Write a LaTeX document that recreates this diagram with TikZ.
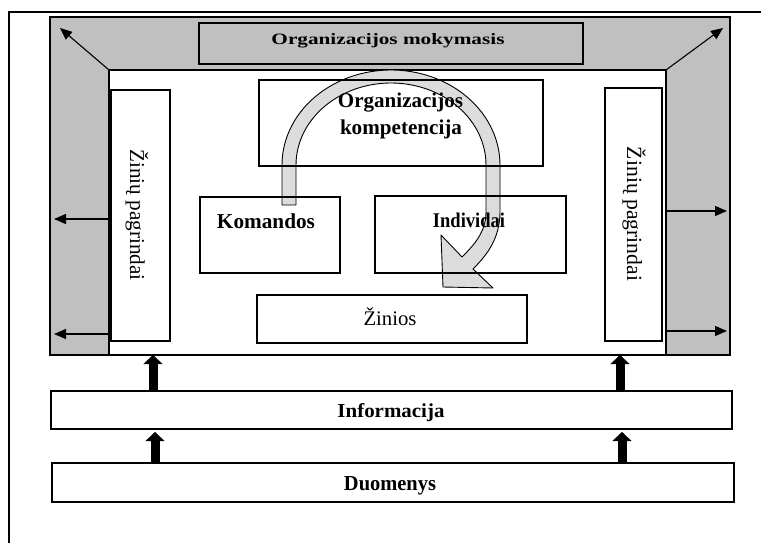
\documentclass[tikz,border=0pt]{standalone}
\usepackage{fontspec}
\setmainfont{Liberation Serif}
\usetikzlibrary{arrows.meta}
\definecolor{panelgray}{HTML}{C0C0C0}
\definecolor{cyclegray}{HTML}{DCDCDC}

\begin{document}
\begin{tikzpicture}[x=1pt,y=-1pt,
  box/.style={draw, line width=1.2pt, fill=white, inner sep=0pt, outer sep=0pt},
  graybox/.style={box, fill=panelgray},
  lbl/.style={inner sep=0pt, anchor=base},
  sidelbl/.style={inner sep=0pt, rotate=-90},
  thinarrow/.style={line width=1.1pt, -{Triangle[length=12pt,width=10pt]}},
  blockarrow/.style={line width=9pt, -{Triangle[length=9pt,width=19pt,line width=0.1pt]}},
  rim/.style={line width=1.2pt}
]
\useasboundingbox (0,0) rectangle (761,543);

% page frame
\draw[line width=1.5pt] (9,543) -- (9,12) -- (761,12);

% organisation panel and its inner area
\node[graybox, line width=1.4pt, minimum width=680pt, minimum height=338pt] (panel) at (390,186) {};
\node[box, minimum width=557pt, minimum height=285pt] (core) at (387.5,212.5) {};
\node[graybox, minimum width=384pt, minimum height=41pt] (learn) at (391,43.5) {};

% knowledge bases
\node[box, minimum width=59pt, minimum height=251pt] (kbl) at (140.5,215.5) {};
\node[box, minimum width=57pt, minimum height=253pt] (kbr) at (633.5,214.5) {};

% inner boxes
\node[box, minimum width=284pt, minimum height=86pt] (comp) at (401,123) {};
\node[box, minimum width=140pt, minimum height=76pt] (team) at (270,235) {};
\node[box, minimum width=191pt, minimum height=77pt] (indiv) at (470.5,234.5) {};
\node[box, minimum width=270pt, minimum height=48pt] (know) at (392,319) {};

% bottom layers
\node[box, minimum width=681pt, minimum height=38pt] (info) at (391.5,410) {};
\node[box, minimum width=682pt, minimum height=39pt] (data) at (393,482.5) {};

% curved cycle arrow
\filldraw[fill=cyclegray, line width=0.9pt, line join=round]
  (282,205) -- (282,165)
  -- plot[domain=180:0, samples=60] ({391+109*cos(\x)},{165-95*sin(\x)})
  -- (500,212) .. controls (500,240) and (485,257) .. (473,269)
  -- (493,288) -- (443,287) -- (441,235) -- (462,257)
  .. controls (474,245) and (486,232) .. (486,212)
  -- (486,165)
  -- plot[domain=0:180, samples=60] ({391+95*cos(\x)},{165-82*sin(\x)})
  -- (296,205) -- cycle;

% box outlines stay visible across the cycle arrow
\draw[rim] (comp.north west) rectangle (comp.south east);
\draw[rim] (team.north west) rectangle (team.south east);
\draw[rim] (indiv.north west) rectangle (indiv.south east);

% labels
\node[lbl] (tlearn) at (388,45) {\resizebox{233pt}{11pt}{\bfseries Organizacijos mokymasis}};
\node[lbl] (tcomp1) at (400.5,107) {\resizebox{125pt}{!}{\bfseries Organizacijos}};
\node[lbl] (tcomp2) at (401,134) {\resizebox{122pt}{!}{\bfseries kompetencija}};
\node[lbl] (tteam) at (266,228) {\resizebox{98pt}{!}{\bfseries Komandos}};
\node[lbl] (tindiv) at (469,227) {\resizebox{72pt}{14.5pt}{\bfseries Individai}};
\node[lbl] (tknow) at (390,325) {\resizebox{53pt}{!}{Žinios}};
\node[lbl] (tinfo) at (391,417) {\resizebox{107pt}{14pt}{\bfseries Informacija}};
\node[lbl] (tdata) at (390,490) {\resizebox{92pt}{14pt}{\bfseries Duomenys}};
\node[sidelbl] (tkbl) at (137,215) {\resizebox{131pt}{!}{Žinių pagrindai}};
\node[sidelbl] (tkbr) at (634,214) {\resizebox{134pt}{!}{Žinių pagrindai}};

% outward arrows
\coordinate (tl) at (60,28);
\coordinate (tr) at (723,28);
\coordinate (l1) at (54,219);
\coordinate (l2) at (54,334);
\coordinate (r1) at (727,211);
\coordinate (r2) at (727,331);
\draw[thinarrow] (core.north west) -- (tl);
\draw[thinarrow] (core.north east) -- (tr);
\draw[thinarrow] (core.west |- l1) -- (l1);
\draw[thinarrow] (core.west |- l2) -- (l2);
\draw[thinarrow] (core.east |- r1) -- (r1);
\draw[thinarrow] (core.east |- r2) -- (r2);

% upward flow between the layers
\coordinate (ua) at (153,0);
\coordinate (ub) at (620,0);
\coordinate (la) at (155,0);
\coordinate (lb) at (622,0);
\draw[blockarrow] (info.north -| ua) -- (core.south -| ua);
\draw[blockarrow] (info.north -| ub) -- (core.south -| ub);
\draw[blockarrow, shorten >=3pt] (data.north -| la) -- (info.south -| la);
\draw[blockarrow, shorten >=3pt] (data.north -| lb) -- (info.south -| lb);
\end{tikzpicture}
\end{document}
